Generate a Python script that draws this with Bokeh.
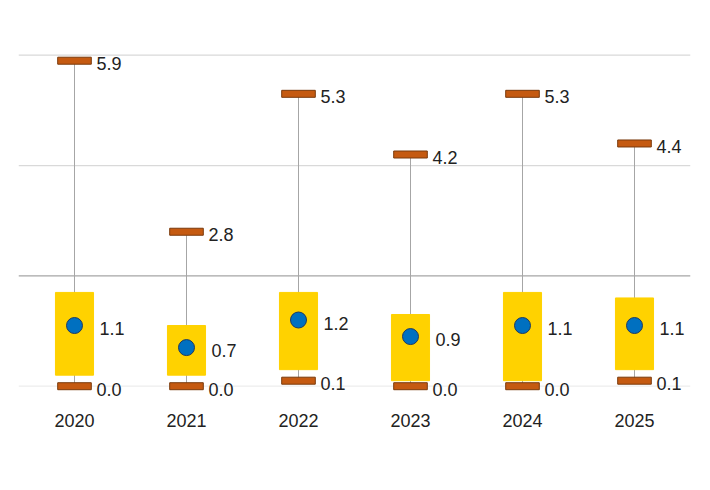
from bokeh.plotting import figure
from bokeh.models import ColumnDataSource, Range1d, Span
from bokeh.core.properties import value
from bokeh.embed import file_html
from bokeh.resources import INLINE

years = ["2020", "2021", "2022", "2023", "2024", "2025"]
max_vals = [5.9, 2.8, 5.3, 4.2, 5.3, 4.4]
min_vals = [0.0, 0.0, 0.1, 0.0, 0.0, 0.1]
mean_vals = [1.1, 0.7, 1.2, 0.9, 1.1, 1.1]
box_low = [0.2, 0.2, 0.3, 0.1, 0.1, 0.3]
box_high = [1.7, 1.1, 1.7, 1.3, 1.7, 1.6]
grid_vals = [0, 2, 4, 6]

FONT = "'Liberation Sans Narrow', 'Arial Narrow', 'Liberation Sans', Arial, sans-serif"

src = ColumnDataSource(dict(
    year=years, mx=max_vals, mn=min_vals, mean=mean_vals, lo=box_low, hi=box_high,
    mx_t=[f"{v:.1f}" for v in max_vals],
    mn_t=[f"{v:.1f}" for v in min_vals],
    mean_t=[f"{v:.1f}" for v in mean_vals],
))

p = figure(x_range=years, y_range=Range1d(-0.259, 6.629), width=702, height=482,
           output_backend="svg", toolbar_location=None,
           min_border_left=18, min_border_right=12, min_border_top=20, min_border_bottom=82)
p.outline_line_color = None
p.background_fill_color = "white"
p.yaxis.visible = False
p.ygrid.visible = False
p.xgrid.visible = False
p.x_range.range_padding = 0

grid_colors = {0: "#EDEDED", 2: "#A6A6A6", 4: "#D9D9D9", 6: "#D9D9D9"}
for g in grid_vals:
    p.add_layout(Span(location=g, dimension="width", line_color=grid_colors[g],
                      line_width=1.2, level="underlay"))

# whiskers
p.segment(x0="year", y0="mn", x1="year", y1="mx", source=src, line_color="#A6A6A6", line_width=1)
# boxes
p.vbar(x="year", bottom="lo", top="hi", width=0.34, source=src, fill_color="#FFD200",
       line_color="#FFD200")
# max / min markers
for col in ["mx", "mn"]:
    p.rect(x="year", y=col, width=0.3, height=7, height_units="screen", source=src,
           fill_color="#C55A11", line_color="#7A3A0C", line_width=1)
# mean dots
p.scatter(x="year", y="mean", size=16, source=src, fill_color="#0070C0", line_color="#1F3A5F",
          line_width=1)

common = dict(source=src, text_font=value(FONT), text_font_size="18px", text_color="#222222",
              text_baseline="middle", text_align="left", y_offset=3)
p.text(x="year", y="mx", text="mx_t", x_offset=22, **common)
p.text(x="year", y="mn", text="mn_t", x_offset=22, **common)
p.text(x="year", y="mean", text="mean_t", x_offset=25, **common)

ax = p.xaxis
ax.axis_line_color = None
ax.major_tick_line_color = None
ax.minor_tick_line_color = None
ax.major_label_text_font = FONT
ax.major_label_text_font_size = "18px"
ax.major_label_text_color = "#222222"
ax.major_label_standoff = 7

open("out.html", "w").write(file_html(p, INLINE))
